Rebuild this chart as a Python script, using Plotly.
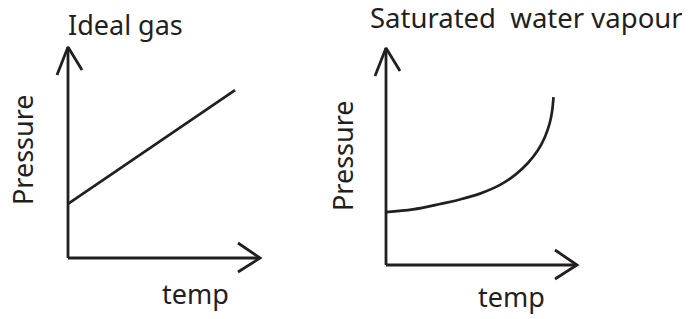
import plotly.graph_objects as go

OFF = 8           # page body margin that offsets the plot inside the browser window
W, H = 690 - OFF, 319 - OFF

# Ideal gas: pressure rises linearly with temperature (schematic, axis units 0..1)
ideal_temp = [0.0, 0.87]
ideal_pressure = [0.256, 0.796]

# Saturated water vapour: pressure rises exponentially with temperature
vap_temp = [0.0, 0.141, 0.283, 0.387, 0.492, 0.597, 0.681, 0.743, 0.796, 0.832,
            0.856, 0.869, 0.877]
vap_pressure = [0.244, 0.256, 0.281, 0.302, 0.329, 0.369, 0.419, 0.470, 0.530, 0.590,
                0.650, 0.705, 0.774]

titles = ["Ideal gas", "Saturated  water vapour"]
x_label = "temp"
y_label = "Pressure"

INK = "#231f20"
FONT = "Noto Sans"
LO, HI = -0.12, 1.05


def px_x(p):
    return (p - OFF) / W


def px_y(p):
    return 1 - (p - OFF) / H


fig = go.Figure()

panels = [
    dict(xa="x", ya="y", org=(68, 258), tip=(260, 47), tx=ideal_temp, ty=ideal_pressure, shape="linear"),
    dict(xa="x2", ya="y2", org=(386, 265), tip=(577, 48), tx=vap_temp, ty=vap_pressure, shape="spline"),
]

for i, p in enumerate(panels):
    sfx = "" if i == 0 else str(i + 1)
    ox, oy = p["org"]
    tx_, ty_ = p["tip"]
    xw = tx_ - ox
    yh = oy - ty_
    line = dict(color=INK, width=2.8)
    common = dict(xaxis=p["xa"], yaxis=p["ya"], mode="lines", hoverinfo="skip", showlegend=False)
    # axes with open arrow tips
    fig.add_trace(go.Scatter(x=[0, 0], y=[0, 1], line=line, **common))
    fig.add_trace(go.Scatter(x=[0, 1], y=[0, 0], line=line, **common))
    fig.add_trace(go.Scatter(x=[-11 / xw, 0, 14 / xw], y=[1 - 28 / yh, 1, 1 - 23 / yh], line=line, **common))
    fig.add_trace(go.Scatter(x=[1 - 22 / xw, 1, 1 - 22 / xw], y=[15 / yh, 0, -14 / yh], line=line, **common))
    # data curve
    fig.add_trace(go.Scatter(x=p["tx"], y=p["ty"],
                             line=dict(color=INK, width=2.7, shape=p["shape"], smoothing=1.0), **common))

    axis_common = dict(showgrid=False, zeroline=False, showticklabels=False, ticks="",
                       showline=False, range=[LO, HI], fixedrange=True)
    fig.layout["xaxis" + sfx] = dict(domain=[px_x(ox + LO * xw), px_x(ox + HI * xw)],
                                     anchor="y" + sfx, **axis_common)
    fig.layout["yaxis" + sfx] = dict(domain=[px_y(oy - LO * yh), px_y(oy - HI * yh)],
                                     anchor="x" + sfx, **axis_common)

annos = [
    dict(text=titles[0], x=66, y=24, xanchor="left", size=27),
    dict(text=titles[1], x=368, y=17, xanchor="left", size=27.5),
    dict(text=y_label, x=22, y=150, xanchor="center", size=27, angle=-90),
    dict(text=y_label, x=342, y=156, xanchor="center", size=27, angle=-90),
    dict(text=x_label, x=196, y=293, xanchor="center", size=27),
    dict(text=x_label, x=511, y=296, xanchor="center", size=27),
]
for a in annos:
    fig.add_annotation(text=a["text"], x=px_x(a["x"]), y=px_y(a["y"]), xref="paper", yref="paper",
                       xanchor=a["xanchor"], yanchor="middle", showarrow=False,
                       textangle=a.get("angle", 0),
                       font=dict(family=FONT, size=a["size"], color=INK))

fig.update_layout(width=W, height=H, margin=dict(l=0, r=0, t=0, b=0),
                  paper_bgcolor="white", plot_bgcolor="white", showlegend=False)

fig.write_html("out.html", config={"displayModeBar": False})
